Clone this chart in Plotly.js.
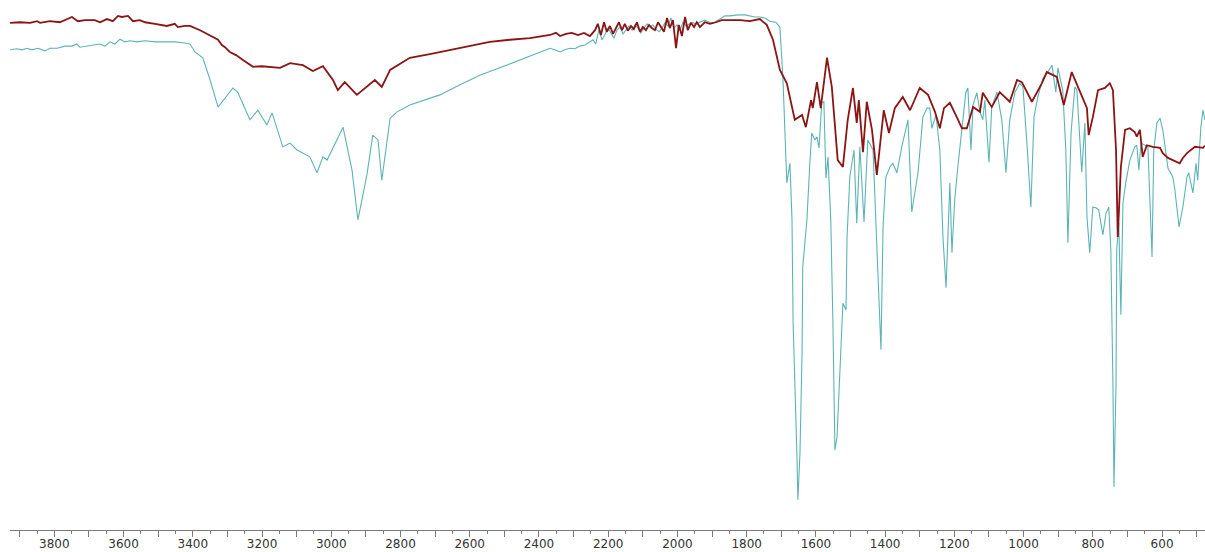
<!DOCTYPE html>
<html>
<head>
<meta charset="utf-8">
<script src="https://cdn.plot.ly/plotly-3.0.1.min.js"></script>
<style>html,body{margin:0;padding:0;background:#fff;}#chart{width:1205px;height:552px;}</style>
</head>
<body>
<div id="chart"></div>
<script>
// Sample B (dark red): wavenumber (cm-1) and transmittance (%)
const redWavenumber = [3928,3899,3870,3850,3841,3813,3784,3769,3749,3732,3711,3683,3668,3648,3631,3616,3605,3587,3573,3553,3538,3509,3495,3475,3452,3443,3423,3408,3379,3342,3327,3316,3307,3293,3275,3255,3241,3226,3200,3177,3148,3119,3082,3053,3024,2995,2981,2961,2926,2874,2854,2830,2773,2715,2657,2599,2542,2484,2426,2368,
2351,2339,2322,2305,2287,2270,2253,2238,2230,2221,2212,2204,2195,2186,2178,2169,2160,2152,2143,2134,2126,2117,2108,2100,2091,2082,2074,2065,2056,2048,2039,2030,2022,2013,2004,1996,1987,1978,1970,1961,1952,1944,1935,1921,1906,1889,1872,1848,1819,1791,1773,1762,1742,1724,1704,1684,1661,1640,1629,1614,1609,1597,1586,1568,1554,1537,1522,1508,1493,1482,1476,1464,1453,1438,1424,1404,1389,1372,1349,1328,1300,1276,1256,1242,1230,1213,1193,1178,1164,1146,1126,1118,1092,1069,1040,1019,1005,976,947,933,904,884,861,843,829,817,812,800,785,765,751,742,733,728,719,707,693,679,673,664,656,644,627,606,598,583,569,549,540,528,505,482,476];
const redTransmittance = [95.7,95.8,95.7,96.0,95.7,96.0,95.8,96.2,96.8,96.0,96.2,96.2,95.8,96.4,96.0,97.0,96.8,97.0,96.0,96.2,95.8,95.5,95.3,95.1,95.5,94.9,95.1,95.1,94.3,93.0,92.5,91.5,91.1,90.2,89.6,88.7,88.1,87.4,87.5,87.4,87.2,88.1,87.7,86.6,87.5,84.9,83.0,84.5,82.1,84.9,83.6,86.8,89.1,89.8,90.6,91.3,92.1,92.5,92.8,93.4,
93.8,93.2,93.6,93.8,93.4,93.8,93.2,94.3,95.5,93.4,95.8,94.0,95.1,93.6,94.7,95.8,94.3,95.5,94.2,95.1,94.5,95.8,94.0,94.9,94.3,95.3,94.7,94.3,95.8,94.9,94.0,96.6,94.7,96.2,90.9,95.3,93.2,96.8,94.3,95.7,94.9,95.8,94.9,95.8,95.5,95.8,96.2,96.2,96.2,96.0,96.2,96.4,95.3,92.5,86.8,84.3,77.4,78.3,76.0,81.1,79.6,84.5,79.6,89.1,83.6,69.8,68.5,77.4,83.4,76.8,81.1,71.3,80.8,75.5,67.0,79.2,74.9,79.6,81.7,79.2,83.4,82.1,78.9,75.8,79.6,80.6,77.9,75.8,75.8,79.8,78.9,82.5,79.8,82.6,80.8,84.9,84.5,80.8,84.3,86.4,85.5,80.2,86.4,83.6,81.1,79.6,74.5,77.9,83.0,83.4,84.3,83.0,71.7,55.3,68.5,75.5,75.8,75.1,74.2,75.5,70.4,72.6,72.3,72.1,71.1,70.2,69.8,69.2,70.2,71.1,72.3,72.1,72.5];

// Sample A (teal): wavenumber (cm-1) and transmittance (%)
const tealWavenumber = [3928,3908,3893,3879,3865,3847,3827,3813,3792,3769,3749,3735,3726,3703,3683,3668,3654,3639,3625,3610,3596,3582,3561,3538,3509,3480,3452,3423,3408,3394,3371,3350,3327,3284,3270,3235,3212,3186,3171,3140,3119,3099,3062,3041,3024,3012,2966,2940,2923,2897,2880,2865,2854,2830,2810,2773,2744,2686,2628,2571,2513,2455,2397,2368,
2354,2339,2325,2311,2296,2282,2267,2253,2244,2236,2227,2218,2210,2201,2192,2183,2175,2166,2157,2149,2140,2131,2123,2114,2106,2097,2088,2080,2071,2062,2053,2045,2036,2027,2019,2010,2001,1993,1984,1975,1967,1958,1947,1935,1921,1906,1892,1877,1863,1848,1825,1805,1791,1776,1762,1747,1733,1716,1704,
1695,1684,1675,1669,1666,1655,1652,1646,1640,1638,1626,1617,1612,1603,1597,1591,1583,1577,1571,1565,1557,1551,1545,1539,1531,1522,1513,1510,1502,1490,1482,1473,1461,1450,1435,1424,1412,1406,1398,1386,1378,1366,1357,1352,1334,1323,1305,1291,1279,1271,1265,1253,1242,1233,1224,1219,1213,1207,1199,1190,1178,1167,1161,1152,1146,1135,1126,1118,1112,1100,1092,1077,1063,1051,1040,1025,1011,1002,991,979,970,959,944,930,918,907,901,887,878,872,863,852,846,838,832,823,817,809,800,791,783,771,762,754,748,742,739,733,731,725,719,713,705,693,679,673,667,661,650,641,629,624,615,606,598,583,569,563,551,540,528,523,511,502,497,488,482,476];
const tealTransmittance = [90.6,90.8,90.6,90.9,90.6,90.9,90.4,90.9,90.9,91.3,91.3,91.7,91.1,91.3,91.5,91.7,91.3,92.1,91.7,92.6,92.1,92.3,92.1,92.3,92.1,92.1,92.1,91.9,91.7,90.2,89.1,84.9,79.8,83.4,82.6,77.4,79.2,76.4,78.7,72.3,73.0,71.7,70.4,67.4,70.4,69.8,76.0,67.9,58.5,67.0,74.5,73.6,66.0,77.7,78.9,80.2,80.8,82.1,84.0,85.8,87.2,88.7,90.2,90.9,
90.6,90.2,90.6,90.9,90.8,91.3,91.5,92.1,92.5,91.7,94.3,92.5,93.4,94.7,93.8,92.8,94.3,94.9,93.6,94.3,95.1,94.3,95.3,94.7,93.8,94.7,95.5,94.9,95.3,94.5,94.0,94.7,95.7,95.1,96.6,94.7,95.3,94.3,95.8,95.1,95.5,95.8,95.5,95.8,96.2,95.7,95.8,96.4,97.0,97.0,97.2,97.2,97.0,96.8,96.8,96.6,96.0,95.8,94.9,
84.9,65.5,69.2,58.5,39.6,14.5,5.7,14.5,33.4,49.6,58.5,69.8,74.9,73.6,74.2,72.1,80.6,80.8,66.4,70.4,58.5,39.6,15.1,17.5,30.2,42.8,41.5,55.3,66.6,71.7,57.9,72.3,58.1,73.6,71.7,52.3,34.0,57.2,66.6,68.5,69.2,67.4,71.1,72.3,77.4,60.0,67.4,77.9,79.6,79.6,75.8,78.3,71.7,55.3,45.7,55.3,65.5,52.3,62.3,68.5,75.5,82.5,83.4,71.7,80.2,82.5,78.9,77.4,81.1,69.4,79.8,82.6,77.4,67.4,77.4,82.6,84.3,83.6,73.6,60.9,77.9,81.7,85.3,86.4,87.7,82.6,87.2,83.0,71.7,54.2,74.9,83.6,83.0,74.9,67.5,76.8,59.1,52.3,60.9,60.8,60.4,55.7,59.8,60.9,52.8,27.7,8.1,27.7,52.8,57.9,40.6,61.7,65.5,69.8,72.3,72.6,67.9,73.0,72.6,72.3,51.5,71.7,76.8,77.7,75.5,68.3,66.6,64.2,57.2,60.9,66.6,67.4,63.6,69.2,66.0,76.0,79.2,77.4];

// Axis ticks
const majorTickValues = [3900,3800,3700,3600,3500,3400,3300,3200,3100,3000,2900,2800,2700,2600,2500,2400,2300,2200,2100,2000,1900,1800,1700,1600,1500,1400,1300,1200,1100,1000,900,800,700,600,500];
const majorTickLabels = ["","3800","","3600","","3400","","3200","","3000","","2800","","2600","","2400","","2200","","2000","","1800","","1600","","1400","","1200","","1000","","800","","600",""];
const xRange = [3928, 476];

const traces = [
  {x: tealWavenumber, y: tealTransmittance, type: 'scatter', mode: 'lines',
   line: {color: '#5cb4b4', width: 1.1}, hoverinfo: 'skip', showlegend: false},
  {x: redWavenumber, y: redTransmittance, type: 'scatter', mode: 'lines',
   line: {color: '#8b1414', width: 1.8}, hoverinfo: 'skip', showlegend: false}
];

const layout = {
  width: 1205, height: 552,
  margin: {l: 10, r: 0, t: 0, b: 22},
  paper_bgcolor: '#ffffff', plot_bgcolor: '#ffffff',
  showlegend: false,
  xaxis: {
    range: xRange, showgrid: false, zeroline: false,
    showline: true, linecolor: '#7a7a7a', linewidth: 1,
    ticks: 'outside', ticklen: 6, tickcolor: '#7a7a7a', tickwidth: 1,
    tickmode: 'array', tickvals: majorTickValues, ticktext: majorTickLabels,
    ticklabelstandoff: -3,
    tickfont: {family: 'DejaVu Sans, Verdana, sans-serif', size: 12, color: '#333333'},
    minor: {dtick: 50, tick0: 0, ticks: 'outside', ticklen: 3, tickcolor: '#7a7a7a', tickwidth: 1, showgrid: false}
  },
  yaxis: {range: [0, 100], visible: false, showgrid: false, zeroline: false, fixedrange: true}
};

Plotly.newPlot('chart', traces, layout, {staticPlot: true, displayModeBar: false});
</script>
</body>
</html>
